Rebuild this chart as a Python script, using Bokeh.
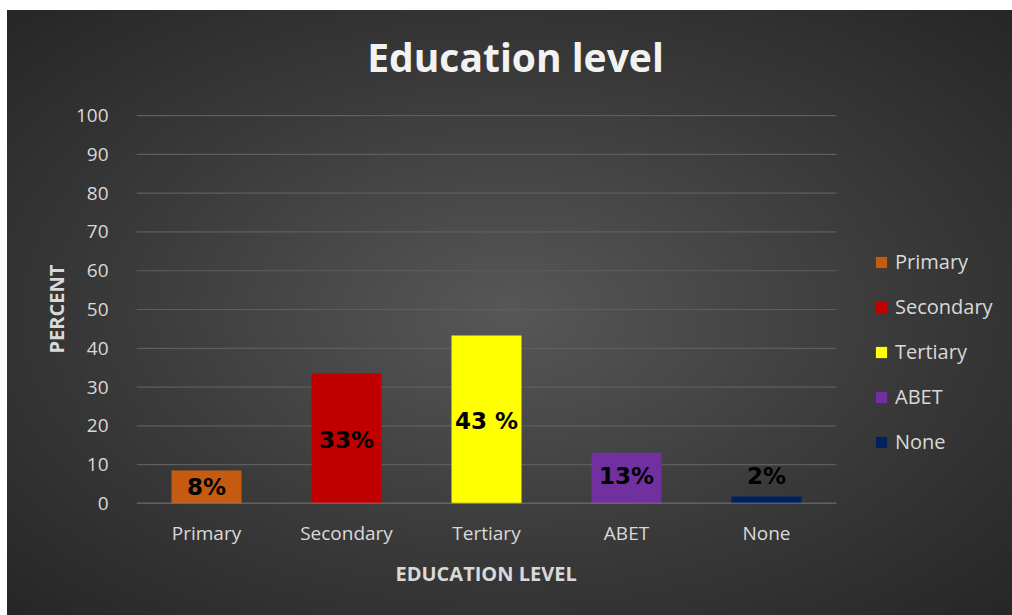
from bokeh.plotting import figure
from bokeh.models import ColumnDataSource, Legend, LegendItem, Range1d, FixedTicker, Title
from bokeh.embed import file_html
from bokeh.resources import INLINE
from bokeh.core.properties import value

categories = ["Primary", "Secondary", "Tertiary", "ABET", "None"]
percent = [8.5, 33.5, 43.3, 13.1, 1.8]
labels = ["8%", "33%", "43 %", "13%", "2%"]
label_y = [4.3, 16.3, 21.2, 7.0, 7.0]
colors = ["#C55A11", "#C00000", "#FFFF00", "#7030A0", "#002060"]
y_ticks = [0, 10, 20, 30, 40, 50, 60, 70, 80, 90, 100]
title_text = "Education level"
x_title = "EDUCATION LEVEL"
y_title = "PERCENT"

n = len(categories)
xpos = list(range(n))
src = ColumnDataSource(dict(x=xpos, cat=categories, val=percent, lab=labels, ly=label_y, col=colors))

p = figure(width=1005, height=605, x_range=Range1d(-0.5, 5.757), y_range=Range1d(0, 124.5),
           output_backend="svg", toolbar_location=None,
           min_border_left=129, min_border_right=0, min_border_top=10, min_border_bottom=112)
p.styles = {"background": "radial-gradient(ellipse farthest-corner at 50% 50%, #575757 0%, #3a3a3a 55%, #262626 100%)",
            "margin-left": "7px", "margin-top": "10px"}
p.background_fill_alpha = 0
p.border_fill_alpha = 0
p.outline_line_color = None
p.xgrid.grid_line_color = None
p.ygrid.grid_line_color = None

# gridlines over the category span
p.segment(x0=[-0.5] * (len(y_ticks) - 1), x1=[n - 0.5] * (len(y_ticks) - 1),
          y0=y_ticks[1:], y1=y_ticks[1:], line_color="#5e5e5e", line_width=1.2)

r = p.vbar(x="x", top="val", width=0.5, source=src, fill_color="col", line_color=None)

# baseline (category axis line)
p.segment(x0=[-0.5], x1=[n - 0.5], y0=[y_ticks[0]], y1=[y_ticks[0]], line_color="#8c8c8c", line_width=1.5)

p.text(x="x", y="ly", text="lab", source=src, text_color="#000000",
       text_font=value("DejaVu Sans"), text_font_style="bold", text_font_size="23px",
       text_align="center", text_baseline="middle")
p.text(x=[(n - 1) / 2], y=[115.2], text=[title_text], x_offset=29, text_color="#f2f2f2",
       text_font=value("Open Sans"), text_font_style="bold", text_font_size="39px",
       text_align="center", text_baseline="middle")

p.yaxis.ticker = FixedTicker(ticks=y_ticks)
p.yaxis.axis_line_color = None
p.yaxis.major_tick_line_color = None
p.yaxis.minor_tick_line_color = None
p.yaxis.major_label_standoff = 22

p.xaxis.ticker = FixedTicker(ticks=xpos)
p.xaxis.major_label_overrides = {i: c for i, c in zip(xpos, categories)}
p.xaxis.axis_line_color = None
p.xaxis.major_tick_line_color = None
p.xaxis.minor_tick_line_color = None
p.xaxis.major_label_standoff = 10

for ax in (p.xaxis[0], p.yaxis[0]):
    ax.major_label_text_font = "Open Sans"
    ax.major_label_text_font_size = "19px"
    ax.major_label_text_color = "#d9d9d9"

yt = Title(text=y_title, align="left", offset=150, standoff=6, text_font="Open Sans",
           text_font_size="20px", text_font_style="bold", text_color="#d9d9d9")
p.add_layout(yt, "left")
xt = Title(text=x_title, align="left", offset=259, standoff=18, text_font="Open Sans",
           text_font_size="20px", text_font_style="bold", text_color="#d9d9d9")
p.add_layout(xt, "below")

items = [LegendItem(label=c, renderers=[r], index=i) for i, c in enumerate(categories)]
legend = Legend(items=items, location=(738, 48), background_fill_alpha=0, border_line_color=None,
                glyph_width=14, glyph_height=14, label_standoff=7, spacing=18, padding=0, margin=0,
                label_text_font="Open Sans", label_text_font_size="20px", label_text_color="#d9d9d9",
                label_height=24)
p.add_layout(legend, "center")

open("out.html", "w").write(file_html(p, INLINE))
